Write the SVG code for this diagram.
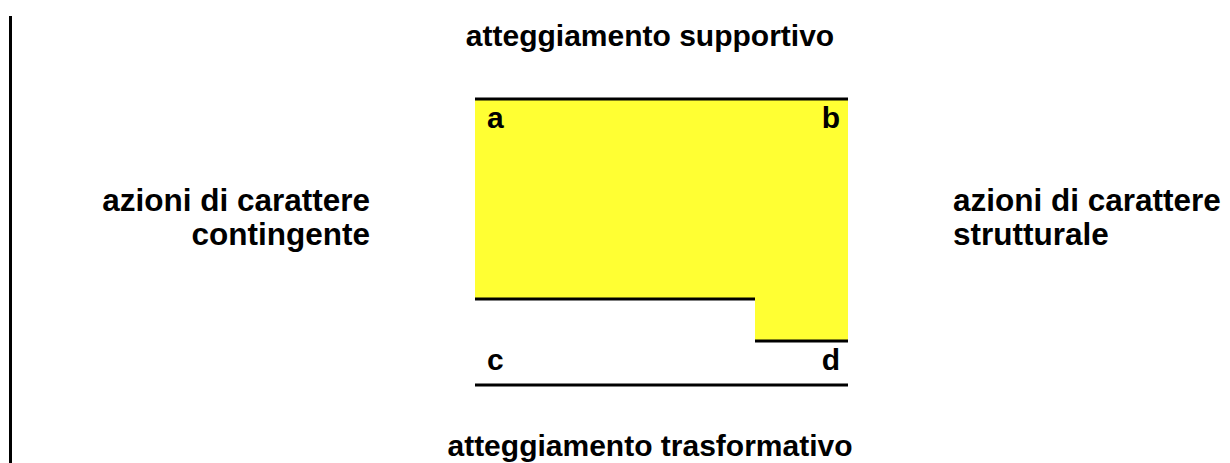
<svg xmlns="http://www.w3.org/2000/svg" width="1230" height="463" viewBox="0 0 1230 463">
<style>
.t{font-family:"Liberation Sans",Arial,sans-serif;font-weight:bold;fill:#000;font-size:30px;}
.side{font-size:31.5px;}
.ln{stroke:#000;stroke-width:3;fill:none;}
</style>
<rect width="1230" height="463" fill="#fff"/>
<g id="frame">
<line class="ln" x1="10.5" y1="16" x2="10.5" y2="463"/>
</g>
<g id="quadrant">
<polygon points="475,100 848,100 848,340 755,340 755,298 475,298" fill="#FFFF33"/>
</g>
<g id="connectors">
<line class="ln" x1="475" y1="99" x2="848" y2="99"/>
<line class="ln" x1="475" y1="299" x2="755" y2="299"/>
<line class="ln" x1="755" y1="341" x2="848" y2="341"/>
<line class="ln" x1="475" y1="385" x2="848" y2="385"/>
</g>
<g id="label-top"><text class="t" x="650" y="46" text-anchor="middle">atteggiamento supportivo</text></g>
<g id="label-bottom"><text class="t" x="650" y="456" text-anchor="middle">atteggiamento trasformativo</text></g>
<g id="label-left"><text class="t side" x="370" y="211" text-anchor="end">azioni di carattere</text><text class="t side" x="370" y="245" text-anchor="end">contingente</text></g>
<g id="label-right"><text class="t side" x="953" y="211">azioni di carattere</text><text class="t side" x="953" y="245">strutturale</text></g>
<g id="corner-a"><text class="t" x="487" y="128">a</text></g>
<g id="corner-b"><text class="t" x="840" y="128" text-anchor="end">b</text></g>
<g id="corner-c"><text class="t" x="487" y="370">c</text></g>
<g id="corner-d"><text class="t" x="840" y="370" text-anchor="end">d</text></g>
</svg>
